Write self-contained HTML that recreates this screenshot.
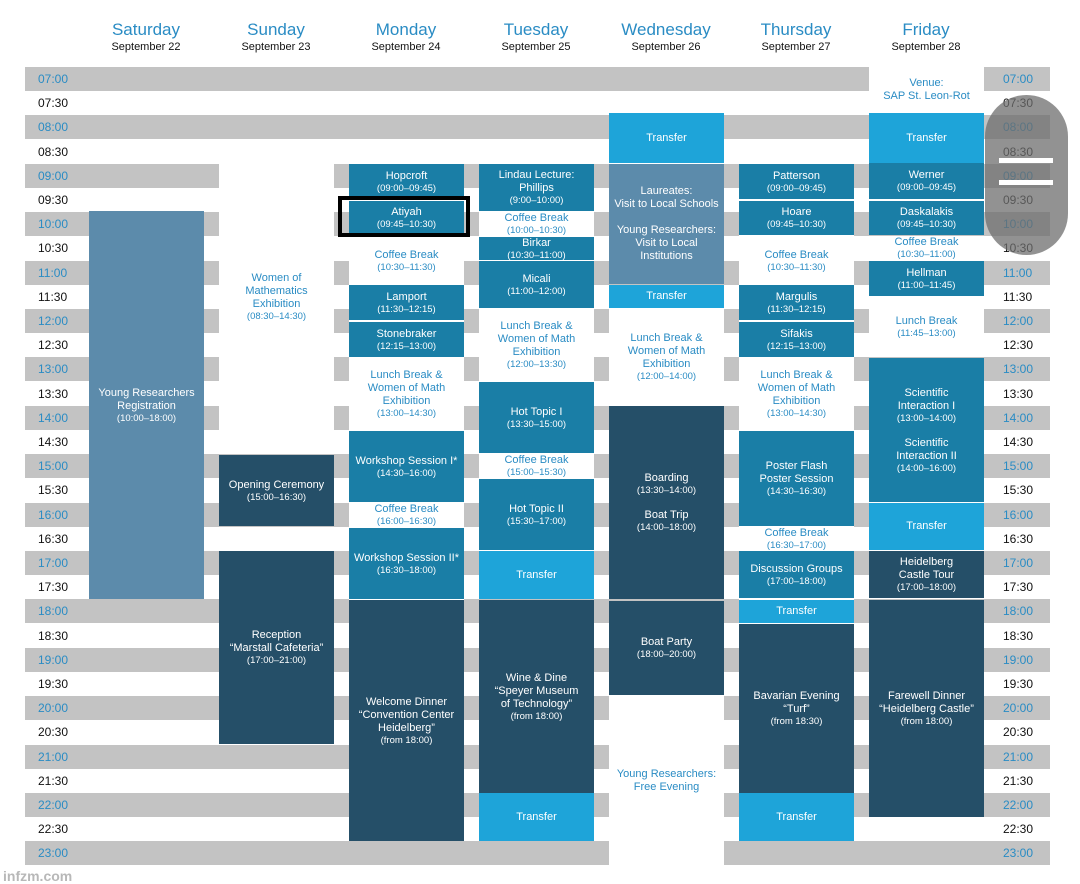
<!DOCTYPE html>
<html><head><meta charset="utf-8">
<style>
body{margin:0;width:1080px;height:884px;background:#fff;position:relative;overflow:hidden;font-family:"Liberation Sans",sans-serif}
.b{position:absolute;left:25px;width:1025px;height:24px;background:#c3c3c3}
.t{position:absolute;font-size:12px;line-height:24px;color:#111}
.tl{left:38px}.tr{left:1003px}
.g{color:#2a8cc4}
.h{position:absolute;width:130px;text-align:center;top:20px}
.h .d{font-size:17px;color:#2a8cc4;line-height:20px}
.h .s{font-size:11px;color:#111;line-height:14px}
.e{position:absolute;width:115px;display:flex;flex-direction:column;justify-content:center;align-items:center;text-align:center;font-size:11px;line-height:13px;color:#fff;box-sizing:border-box}
.e small{font-size:9.5px;line-height:11px}
.w{background:#fff;color:#2a8cc4}
.m{background:#1a7ea6}
.l{background:#1ea4d9}
.k{background:#254f68}
.q{background:#5c8bab}
</style></head><body>
<div class="h" style="left:81px"><div class="d">Saturday</div><div class="s">September 22</div></div>
<div class="h" style="left:211px"><div class="d">Sunday</div><div class="s">September 23</div></div>
<div class="h" style="left:341px"><div class="d">Monday</div><div class="s">September 24</div></div>
<div class="h" style="left:471px"><div class="d">Tuesday</div><div class="s">September 25</div></div>
<div class="h" style="left:601px"><div class="d">Wednesday</div><div class="s">September 26</div></div>
<div class="h" style="left:731px"><div class="d">Thursday</div><div class="s">September 27</div></div>
<div class="h" style="left:861px"><div class="d">Friday</div><div class="s">September 28</div></div>

<div class="b" style="top:67px"></div><div class="b" style="top:115px"></div><div class="b" style="top:164px"></div><div class="b" style="top:212px"></div><div class="b" style="top:261px"></div><div class="b" style="top:309px"></div><div class="b" style="top:357px"></div><div class="b" style="top:406px"></div><div class="b" style="top:454px"></div><div class="b" style="top:503px"></div><div class="b" style="top:551px"></div><div class="b" style="top:599px"></div><div class="b" style="top:648px"></div><div class="b" style="top:696px"></div><div class="b" style="top:745px"></div><div class="b" style="top:793px"></div><div class="b" style="top:841px"></div>

<div class="t tl g" style="top:67px">07:00</div><div class="t tr g" style="top:67px">07:00</div>
<div class="t tl" style="top:91px">07:30</div><div class="t tr" style="top:91px">07:30</div>
<div class="t tl g" style="top:115px">08:00</div><div class="t tr g" style="top:115px">08:00</div>
<div class="t tl" style="top:140px">08:30</div><div class="t tr" style="top:140px">08:30</div>
<div class="t tl g" style="top:164px">09:00</div><div class="t tr g" style="top:164px">09:00</div>
<div class="t tl" style="top:188px">09:30</div><div class="t tr" style="top:188px">09:30</div>
<div class="t tl g" style="top:212px">10:00</div><div class="t tr g" style="top:212px">10:00</div>
<div class="t tl" style="top:236px">10:30</div><div class="t tr" style="top:236px">10:30</div>
<div class="t tl g" style="top:261px">11:00</div><div class="t tr g" style="top:261px">11:00</div>
<div class="t tl" style="top:285px">11:30</div><div class="t tr" style="top:285px">11:30</div>
<div class="t tl g" style="top:309px">12:00</div><div class="t tr g" style="top:309px">12:00</div>
<div class="t tl" style="top:333px">12:30</div><div class="t tr" style="top:333px">12:30</div>
<div class="t tl g" style="top:357px">13:00</div><div class="t tr g" style="top:357px">13:00</div>
<div class="t tl" style="top:382px">13:30</div><div class="t tr" style="top:382px">13:30</div>
<div class="t tl g" style="top:406px">14:00</div><div class="t tr g" style="top:406px">14:00</div>
<div class="t tl" style="top:430px">14:30</div><div class="t tr" style="top:430px">14:30</div>
<div class="t tl g" style="top:454px">15:00</div><div class="t tr g" style="top:454px">15:00</div>
<div class="t tl" style="top:478px">15:30</div><div class="t tr" style="top:478px">15:30</div>
<div class="t tl g" style="top:503px">16:00</div><div class="t tr g" style="top:503px">16:00</div>
<div class="t tl" style="top:527px">16:30</div><div class="t tr" style="top:527px">16:30</div>
<div class="t tl g" style="top:551px">17:00</div><div class="t tr g" style="top:551px">17:00</div>
<div class="t tl" style="top:575px">17:30</div><div class="t tr" style="top:575px">17:30</div>
<div class="t tl g" style="top:599px">18:00</div><div class="t tr g" style="top:599px">18:00</div>
<div class="t tl" style="top:624px">18:30</div><div class="t tr" style="top:624px">18:30</div>
<div class="t tl g" style="top:648px">19:00</div><div class="t tr g" style="top:648px">19:00</div>
<div class="t tl" style="top:672px">19:30</div><div class="t tr" style="top:672px">19:30</div>
<div class="t tl g" style="top:696px">20:00</div><div class="t tr g" style="top:696px">20:00</div>
<div class="t tl" style="top:720px">20:30</div><div class="t tr" style="top:720px">20:30</div>
<div class="t tl g" style="top:745px">21:00</div><div class="t tr g" style="top:745px">21:00</div>
<div class="t tl" style="top:769px">21:30</div><div class="t tr" style="top:769px">21:30</div>
<div class="t tl g" style="top:793px">22:00</div><div class="t tr g" style="top:793px">22:00</div>
<div class="t tl" style="top:817px">22:30</div><div class="t tr" style="top:817px">22:30</div>
<div class="t tl g" style="top:841px">23:00</div><div class="t tr g" style="top:841px">23:00</div>

<!-- Saturday -->
<div class="e q" style="left:89px;top:211px;height:388px">Young Researchers<br>Registration<small>(10:00–18:00)</small></div>
<!-- Sunday -->
<div class="e w" style="left:219px;top:140px;height:314px">Women of<br>Mathematics<br>Exhibition<small>(08:30–14:30)</small></div>
<div class="e k" style="left:219px;top:455px;height:71px">Opening Ceremony<small>(15:00–16:30)</small></div>
<div class="e w" style="left:219px;top:527px;height:23px"></div>
<div class="e k" style="left:219px;top:551px;height:193px">Reception<br>“Marstall Cafeteria”<small>(17:00–21:00)</small></div>
<!-- Monday -->
<div class="e w" style="left:349px;top:150px;height:450px"></div>
<div class="e m" style="left:349px;top:164px;height:35px">Hopcroft<small>(09:00–09:45)</small></div>
<div class="e m" style="left:349px;top:201px;height:34px">Atiyah<small>(09:45–10:30)</small></div>
<div class="e w" style="left:349px;top:237px;height:47px">Coffee Break<small>(10:30–11:30)</small></div>
<div class="e m" style="left:349px;top:285px;height:35px">Lamport<small>(11:30–12:15)</small></div>
<div class="e m" style="left:349px;top:322px;height:35px">Stonebraker<small>(12:15–13:00)</small></div>
<div class="e w" style="left:349px;top:358px;height:71px">Lunch Break &amp;<br>Women of Math<br>Exhibition<small>(13:00–14:30)</small></div>
<div class="e m" style="left:349px;top:431px;height:71px">Workshop Session I*<small>(14:30–16:00)</small></div>
<div class="e w" style="left:349px;top:503px;height:23px">Coffee Break<small>(16:00–16:30)</small></div>
<div class="e m" style="left:349px;top:528px;height:71px">Workshop Session II*<small>(16:30–18:00)</small></div>
<div class="e k" style="left:349px;top:600px;height:241px">Welcome Dinner<br>“Convention Center<br>Heidelberg”<small>(from 18:00)</small></div>
<div style="position:absolute;left:338px;top:196px;width:124px;height:33px;border:4px solid #000"></div>
<!-- Tuesday -->
<div class="e w" style="left:479px;top:150px;height:400px"></div>
<div class="e m" style="left:479px;top:164px;height:47px">Lindau Lecture:<br>Phillips<small>(9:00–10:00)</small></div>
<div class="e w" style="left:479px;top:212px;height:23px">Coffee Break<small>(10:00–10:30)</small></div>
<div class="e m" style="left:479px;top:237px;height:23px">Birkar<small>(10:30–11:00)</small></div>
<div class="e m" style="left:479px;top:261px;height:47px">Micali<small>(11:00–12:00)</small></div>
<div class="e w" style="left:479px;top:309px;height:72px">Lunch Break &amp;<br>Women of Math<br>Exhibition<small>(12:00–13:30)</small></div>
<div class="e m" style="left:479px;top:382px;height:71px">Hot Topic I<small>(13:30–15:00)</small></div>
<div class="e w" style="left:479px;top:454px;height:23px">Coffee Break<small>(15:00–15:30)</small></div>
<div class="e m" style="left:479px;top:479px;height:71px">Hot Topic II<small>(15:30–17:00)</small></div>
<div class="e l" style="left:479px;top:551px;height:48px">Transfer</div>
<div class="e k" style="left:479px;top:600px;height:193px">Wine &amp; Dine<br>“Speyer Museum<br>of Technology”<small>(from 18:00)</small></div>
<div class="e l" style="left:479px;top:793px;height:48px">Transfer</div>
<!-- Wednesday -->
<div class="e l" style="left:609px;top:113px;height:50px">Transfer</div>
<div class="e q" style="left:609px;top:164px;height:120px">Laureates:<br>Visit to Local Schools<br><br>Young Researchers:<br>Visit to Local<br>Institutions</div>
<div class="e l" style="left:609px;top:285px;height:23px">Transfer</div>
<div class="e w" style="left:609px;top:309px;height:96px">Lunch Break &amp;<br>Women of Math<br>Exhibition<small>(12:00–14:00)</small></div>
<div class="e k" style="left:609px;top:406px;height:193px">Boarding<small>(13:30–14:00)</small><br>Boat Trip<small>(14:00–18:00)</small></div>
<div class="e k" style="left:609px;top:601px;height:94px">Boat Party<small>(18:00–20:00)</small></div>
<div class="e w" style="left:609px;top:696px;height:170px">Young Researchers:<br>Free Evening</div>
<!-- Thursday -->
<div class="e w" style="left:739px;top:150px;height:450px"></div>
<div class="e m" style="left:739px;top:164px;height:35px">Patterson<small>(09:00–09:45)</small></div>
<div class="e m" style="left:739px;top:201px;height:34px">Hoare<small>(09:45–10:30)</small></div>
<div class="e w" style="left:739px;top:237px;height:47px">Coffee Break<small>(10:30–11:30)</small></div>
<div class="e m" style="left:739px;top:285px;height:35px">Margulis<small>(11:30–12:15)</small></div>
<div class="e m" style="left:739px;top:322px;height:35px">Sifakis<small>(12:15–13:00)</small></div>
<div class="e w" style="left:739px;top:358px;height:71px">Lunch Break &amp;<br>Women of Math<br>Exhibition<small>(13:00–14:30)</small></div>
<div class="e m" style="left:739px;top:431px;height:95px">Poster Flash<br>Poster Session<small>(14:30–16:30)</small></div>
<div class="e w" style="left:739px;top:527px;height:23px">Coffee Break<small>(16:30–17:00)</small></div>
<div class="e m" style="left:739px;top:551px;height:47px">Discussion Groups<small>(17:00–18:00)</small></div>
<div class="e l" style="left:739px;top:600px;height:23px">Transfer</div>
<div class="e k" style="left:739px;top:624px;height:169px">Bavarian Evening<br>“Turf”<small>(from 18:30)</small></div>
<div class="e l" style="left:739px;top:793px;height:48px">Transfer</div>
<!-- Friday -->
<div class="e w" style="left:869px;top:67px;height:46px">Venue:<br>SAP St. Leon-Rot</div>
<div class="e l" style="left:869px;top:113px;height:50px">Transfer</div>
<div class="e m" style="left:869px;top:163px;height:36px">Werner<small>(09:00–09:45)</small></div>
<div class="e m" style="left:869px;top:201px;height:34px">Daskalakis<small>(09:45–10:30)</small></div>
<div class="e w" style="left:869px;top:236px;height:24px">Coffee Break<small>(10:30–11:00)</small></div>
<div class="e m" style="left:869px;top:261px;height:35px">Hellman<small>(11:00–11:45)</small></div>
<div class="e w" style="left:869px;top:297px;height:60px">Lunch Break<small>(11:45–13:00)</small></div>
<div class="e m" style="left:869px;top:358px;height:144px">Scientific<br>Interaction I<small>(13:00–14:00)</small><br>Scientific<br>Interaction II<small>(14:00–16:00)</small></div>
<div class="e l" style="left:869px;top:503px;height:47px">Transfer</div>
<div class="e k" style="left:869px;top:551px;height:47px">Heidelberg<br>Castle Tour<small>(17:00–18:00)</small></div>
<div class="e k" style="left:869px;top:600px;height:217px">Farewell Dinner<br>“Heidelberg Castle”<small>(from 18:00)</small></div>

<div style="position:absolute;left:985px;top:95px;width:83px;height:160px;border-radius:42px;background:rgba(110,110,110,0.75)"></div>
<div style="position:absolute;left:999px;top:158px;width:54px;height:5px;background:#fff"></div>
<div style="position:absolute;left:999px;top:180px;width:54px;height:5px;background:#fff"></div>
<div style="position:absolute;left:3px;top:868px;font-size:14px;font-weight:bold;color:#b8b8b8">infzm.com</div>
</body></html>
